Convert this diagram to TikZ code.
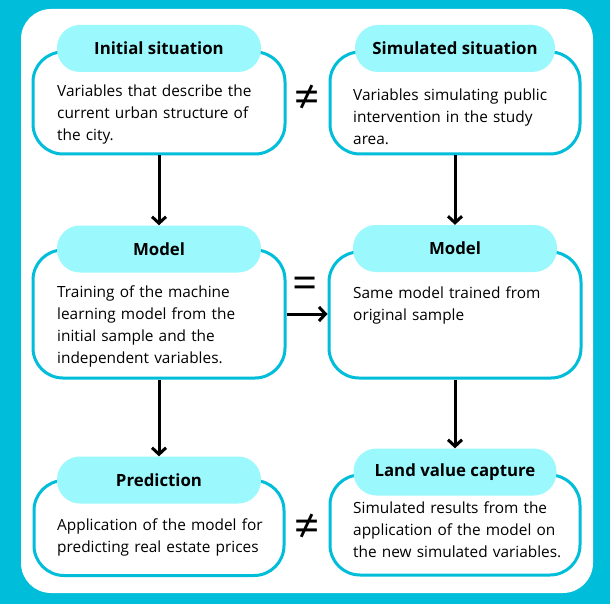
\documentclass[tikz,border=0pt]{standalone}
\usepackage{fontspec}
\setmainfont{Open Sans}
\usetikzlibrary{arrows.meta}
\definecolor{bgcyan}{HTML}{00BDD9}
\definecolor{pillcyan}{HTML}{9BF9FD}
\tikzset{
  x=1pt, y=-1pt,
  box/.style={draw=bgcyan, line width=3pt, fill=white, rounded corners=30pt, rectangle, inner sep=0pt},
  pill/.style={fill=pillcyan, rounded corners=23pt, rectangle, inner sep=0pt, minimum height=47pt,
    font=\fontsize{16.8}{20}\selectfont\bfseries},
  body/.style={anchor=base west, inner sep=0pt, align=left, text width=240pt,
    font=\fontsize{15.4}{22}\selectfont},
  arr/.style={line width=3pt, -{Straight Barb[length=6.5pt,width=14pt,line width=3pt]}},
  sym/.style={font=\fontsize{44}{46}\selectfont, inner sep=0pt}
}
\begin{document}
\begin{tikzpicture}
\useasboundingbox (0,0) rectangle (610,604);
\fill[bgcyan] (0,0) rectangle (610,604);
\fill[white, rounded corners=30pt] (21,9) rectangle (593,593);

% row 1
\node[box, minimum width=252pt, minimum height=102pt] (bl1) at (159,103) {};
\node[box, minimum width=250pt, minimum height=102pt] (br1) at (455,103) {};
\node[pill, minimum width=204pt] (pl1) at (159,48.5) {Initial situation};
\node[pill, minimum width=200pt] (pr1) at (455,48.5) {Simulated situation};
\node[body] (tl1) at (57,97) {Variables that describe the\\current urban structure of\\the city.};
\node[body] (tr1) at (353,101) {Variables simulating public\\intervention in the study\\area.};
\node[sym] (ne1) at (307,99) {≠};

% row 2
\node[box, minimum width=252pt, minimum height=128pt] (bl2) at (159,314) {};
\node[box, minimum width=252pt, minimum height=126pt] (br2) at (455,315) {};
\node[pill, minimum width=204pt] (pl2) at (159,249) {Model};
\node[pill, minimum width=204pt] (pr2) at (455,248.5) {Model};
\node[body] (tl2) at (57,297) {Training of the machine\\learning model from the\\initial sample and the\\independent variables.};
\node[body] (tr2) at (353,298) {Same model trained from\\original sample};
\node[sym] (eq) at (305,288) {=};

% row 3
\node[box, minimum width=250pt, minimum height=95pt] (bl3) at (159,528) {};
\node[box, minimum width=250pt, minimum height=100pt] (br3) at (455,525) {};
\node[pill, minimum width=204pt] (pl3) at (159,480) {Prediction};
\node[pill, minimum width=203pt] (pr3) at (455,472) {Land value capture};
\node[body] (tl3) at (57,530) {Application of the model for\\predicting real estate prices};
\node[body] (tr3) at (353,513) {Simulated results from the\\application of the model on\\the new simulated variables.};
\node[sym] (ne2) at (307,528) {≠};

% arrows
\draw[arr] (bl1.south) -- (pl2.north);
\draw[arr] (br1.south) -- (pr2.north);
\draw[arr] (bl2.south) -- (pl3.north);
\draw[arr] (br2.south) -- (pr3.north);
\draw[arr] (bl2.east) -- (bl2.east -| br2.west);
\end{tikzpicture}
\end{document}
